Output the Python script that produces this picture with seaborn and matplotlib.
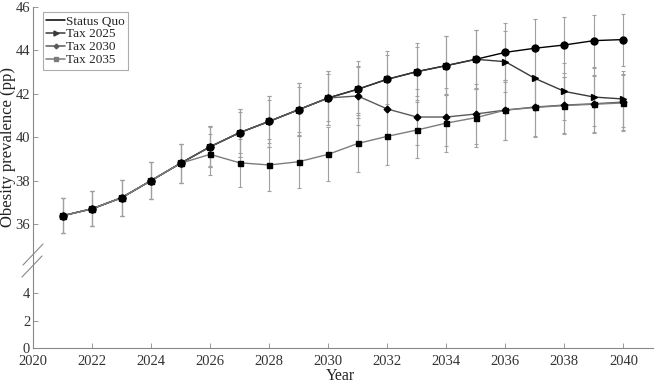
import numpy as np
import pandas as pd
import matplotlib
matplotlib.use("Agg")
import matplotlib.pyplot as plt
import seaborn as sns
from matplotlib.lines import Line2D

years = list(range(2021, 2041))
status_quo = [36.38, 36.70, 37.21, 38.00, 38.80, 39.56, 40.21, 40.73, 41.27, 41.81,
              42.21, 42.67, 43.02, 43.30, 43.59, 43.91, 44.10, 44.25, 44.45, 44.50]
tax_2025 = [36.38, 36.70, 37.21, 38.00, 38.80, 39.56, 40.21, 40.73, 41.27, 41.81,
            42.21, 42.67, 43.02, 43.30, 43.59, 43.48, 42.71, 42.11, 41.85, 41.76]
tax_2030 = [36.38, 36.70, 37.21, 38.00, 38.80, 39.56, 40.21, 40.73, 41.27, 41.81,
            41.90, 41.30, 40.93, 40.93, 41.07, 41.25, 41.39, 41.48, 41.54, 41.62]
tax_2035 = [36.38, 36.70, 37.21, 38.00, 38.80, 39.21, 38.82, 38.72, 38.87, 39.21,
            39.71, 40.04, 40.33, 40.65, 40.90, 41.25, 41.37, 41.46, 41.52, 41.58]
err_sq = [0.80, 0.80, 0.82, 0.85, 0.90, 0.90, 0.95, 1.00, 1.05, 1.08,
          1.08, 1.12, 1.12, 1.35, 1.35, 1.35, 1.35, 1.30, 1.20, 1.20]
err_tax = [0.80, 0.80, 0.82, 0.85, 0.90, 0.95, 1.10, 1.18, 1.22, 1.24,
           1.32, 1.32, 1.30, 1.35, 1.37, 1.40, 1.35, 1.30, 1.32, 1.28]
series_names = ["Status Quo", "Tax 2025", "Tax 2030", "Tax 2035"]
x_ticks = list(range(2020, 2041, 2))
y_ticks = [0, 2, 4, 36, 38, 40, 42, 44, 46]

sns.set_theme(style="ticks")
plt.rcParams['font.family'] = ['Liberation Serif', 'DejaVu Serif']

df = pd.DataFrame({
    "Year": years * 4,
    "Value": status_quo + tax_2025 + tax_2030 + tax_2035,
    "Err": err_sq + err_tax + err_tax + err_tax,
    "Series": sum([[n] * len(years) for n in series_names], []),
})

# broken-axis style mapping (0-5 compressed, 35-46 expanded)
def fwd(y):
    y = np.asarray(y, dtype=float)
    return np.where(y < 5, 13.7 * y,
                    np.where(y < 35, 68.5 + (y - 5) * (33.8 / 30), 102.3 + (y - 35) * 21.7))

def inv(p):
    p = np.asarray(p, dtype=float)
    return np.where(p < 68.5, p / 13.7,
                    np.where(p < 102.3, 5 + (p - 68.5) * (30 / 33.8), 35 + (p - 102.3) / 21.7))

fig = plt.figure(figsize=(6.6, 3.85), dpi=100)
ax = fig.add_axes([33 / 660, 37 / 385, 620 / 660, 341 / 385])
ax.set_yscale('function', functions=(fwd, inv))

line_colors = {"Status Quo": "#000000", "Tax 2025": "#3a3a3a", "Tax 2030": "#5a5a5a", "Tax 2035": "#7c7c7c"}
markers = {"Status Quo": "o", "Tax 2025": ">", "Tax 2030": "D", "Tax 2035": "s"}
msizes = {"Status Quo": 5.0, "Tax 2025": 4.6, "Tax 2030": 3.4, "Tax 2035": 3.6}

for name in series_names:
    d = df[df.Series == name]
    ax.errorbar(d.Year, d.Value, yerr=d.Err, fmt='none', ecolor="#a0a0a0",
                elinewidth=0.8, capsize=1.6, capthick=0.8, zorder=1)

for i, name in enumerate(series_names):
    d = df[df.Series == name]
    sns.lineplot(data=d, x="Year", y="Value", color=line_colors[name], lw=1.0,
                 ax=ax, zorder=2 + i, legend=False)

for name in reversed(series_names):
    d = df[df.Series == name]
    ax.plot(d.Year, d.Value, linestyle='none', marker=markers[name],
            markersize=msizes[name], markerfacecolor='black', markeredgecolor='black', zorder=10)

ax.set_xlim(2020, 2041)
ax.set_ylim(0, 46)
ax.set_xticks(x_ticks)
ax.set_yticks(y_ticks)
ax.set_yticklabels([str(t) for t in y_ticks])
ax.minorticks_off()
ax.tick_params(direction='in', length=3.5, width=0.6, colors='#888888', labelcolor='#333333', labelsize=10.5)
ax.tick_params(axis='x', pad=5)
ax.tick_params(axis='y', pad=2)
for s in ["top", "right"]:
    ax.spines[s].set_visible(False)
for s in ["left", "bottom"]:
    ax.spines[s].set_color("#888888")
    ax.spines[s].set_linewidth(0.8)
ax.set_xlabel("")
ax.set_ylabel("")

fig.text(340 / 660, 1 - 376 / 385, "Year", ha='center', va='center', fontsize=11.5, color='#222222')
fig.text(8 / 660, 1 - 147 / 385, "Obesity prevalence (pp)", ha='center', va='center',
         rotation=90, fontsize=12, color='#222222')

# break marks on the y axis
for (x0, y0, x1, y1) in [(23, 265, 43, 244), (22, 277, 42, 256)]:
    fig.add_artist(Line2D([x0 / 660, x1 / 660], [1 - y0 / 385, 1 - y1 / 385],
                          color='#888888', lw=0.8))

handles = []
for name in series_names:
    if name == "Status Quo":
        handles.append(Line2D([], [], color='black', lw=1.1))
    else:
        handles.append(Line2D([], [], color=line_colors[name], lw=1.1, marker=markers[name],
                              markersize=msizes[name] - 1, markerfacecolor=line_colors[name],
                              markeredgecolor=line_colors[name]))
leg = ax.legend(handles, series_names, loc='upper left', bbox_to_anchor=(10 / 620, 1 - 5 / 341),
                frameon=True, fancybox=False, fontsize=9.5, handlelength=1.4, handletextpad=0.1,
                labelspacing=0.05, borderpad=0.25, borderaxespad=0)
leg.get_frame().set_edgecolor('#999999')
leg.get_frame().set_linewidth(0.8)

fig.savefig("out.png", dpi=100)
